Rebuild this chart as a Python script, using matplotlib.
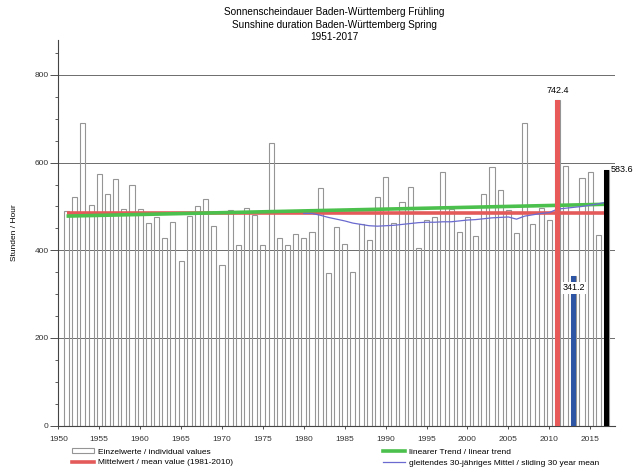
import numpy as np
import matplotlib
matplotlib.use('Agg')
import matplotlib.pyplot as plt
from matplotlib.patches import Patch
from matplotlib.lines import Line2D

plt.rcParams['font.family'] = ['Liberation Sans', 'DejaVu Sans']

# spring sunshine duration, Baden-Wuerttemberg [h]
years = list(range(1951, 2018))
hours = [490, 522, 690, 503, 575, 529, 563, 495, 548, 494,
         463, 475, 429, 464, 375, 478, 500, 516, 456, 366,
         493, 413, 497, 480, 413, 645, 427, 413, 437, 427,
         442, 541, 349, 453, 415, 351, 461, 424, 522, 567,
         463, 511, 544, 406, 469, 475, 578, 495, 442, 477,
         433, 528, 590, 538, 492, 440, 691, 459, 497, 469,
         742.4, 593, 341.2, 565, 579, 436, 583.6]

# highlighted years: max, min, current
max_year, max_val = 2011, 742.4
min_year, min_val = 2013, 341.2
last_year, last_val = 2017, 583.6

mean_1981_2010 = 484
trend_years = [1951, 2017]
trend_vals = [478, 505]

# sliding 30 year mean (end year of window)
slide_years = list(range(1980, 2018))
slide_vals = [484, 484, 480, 475, 471, 467, 462, 459, 456, 455,
              456, 457, 459, 461, 463, 464, 464, 465, 465, 467,
              469, 470, 472, 474, 475, 476, 471, 478, 481, 484,
              486, 494, 496, 498, 500, 503, 506, 510]

fig = plt.figure(figsize=(6.41, 4.75), dpi=100)
ax = fig.add_axes([0.091, 0.104, 0.868, 0.812])

ax.bar(years, hours, width=0.62, facecolor='none', edgecolor='#959595',
       linewidth=0.8, zorder=2)
ax.plot([years[0], years[-1]], [mean_1981_2010]*2, color='#e45a5a', lw=2.6,
        solid_capstyle='butt', zorder=3)
ax.plot(trend_years, trend_vals, color='#4cc04c', lw=2.6,
        solid_capstyle='butt', zorder=3)
ax.plot(slide_years, slide_vals, color='#6a6ad0', lw=0.9, zorder=3)

ax.bar([max_year], [max_val], width=0.62, color='#e85a5a', zorder=4)
ax.bar([min_year], [min_val], width=0.62, color='#2d55a3', zorder=4)
ax.bar([last_year], [last_val], width=0.62, color='black', zorder=4)

ax.text(max_year, max_val + 12, '%.1f' % max_val, ha='center', va='bottom',
        fontsize=6.5, zorder=5)
ax.text(last_year + 0.45, last_val, '%.1f' % last_val, ha='left',
        va='center', fontsize=6.5, zorder=5)
ax.text(min_year, 314, '%.1f' % min_val, ha='center', va='center',
        fontsize=6.5, zorder=5,
        bbox=dict(facecolor='white', edgecolor='none', pad=0.8))

ax.set_xlim(1950, 2018)
ax.set_ylim(0, 880)
ax.set_xticks(np.arange(1950, 2016, 5))
ax.set_yticks(np.arange(0, 801, 200))
ax.set_yticks(np.arange(0, 851, 50), minor=True)
for v in [200, 400, 600, 800]:
    ax.axhline(v, color='#555555', lw=0.6, zorder=1)

ax.spines['top'].set_visible(False)
ax.spines['right'].set_visible(False)
ax.spines['left'].set_color('#444444')
ax.spines['bottom'].set_color('#444444')
ax.tick_params(axis='y', which='major', length=6, width=0.6, pad=1,
               labelsize=6, colors='#333333')
ax.tick_params(axis='y', which='minor', length=2.5, width=0.6,
               colors='#444444')
ax.tick_params(axis='x', which='major', length=2.5, width=0.6, pad=5,
               labelsize=6, colors='#333333')
ax.set_ylabel('Stunden / Hour', fontsize=6, labelpad=12)

fig.text(0.522, 0.985, 'Sonnenscheindauer Baden-Württemberg Frühling\n'
         'Sunshine duration Baden-Württemberg Spring\n1951-2017',
         ha='center', va='top', fontsize=7.2, linespacing=1.3)

leg_left = [Patch(facecolor='white', edgecolor='#959595', lw=0.8),
            Line2D([], [], color='#e45a5a', lw=2.6)]
fig.legend(leg_left, ['Einzelwerte / individual values',
                      'Mittelwert / mean value (1981-2010)'],
           loc='upper left', bbox_to_anchor=(72/641, 1 - 448/475),
           frameon=False, fontsize=6, handlelength=2.6, handleheight=0.6,
           handletextpad=0.5, labelspacing=0.4, borderpad=0,
           borderaxespad=0)
leg_right = [Line2D([], [], color='#4cc04c', lw=2.6),
             Line2D([], [], color='#6a6ad0', lw=0.9)]
fig.legend(leg_right, ['linearer Trend / linear trend',
                       'gleitendes 30-jähriges Mittel / sliding 30 year mean'],
           loc='upper left', bbox_to_anchor=(383/641, 1 - 448/475),
           frameon=False, fontsize=6, handlelength=2.6,
           handletextpad=0.5, labelspacing=0.4, borderpad=0,
           borderaxespad=0)

fig.savefig('out.png', dpi=100)
